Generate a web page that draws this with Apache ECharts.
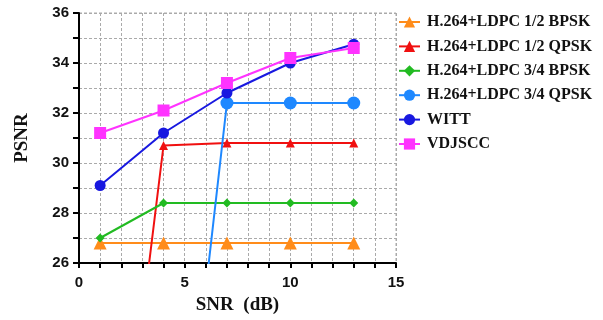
<!DOCTYPE html>
<html><head><meta charset="utf-8">
<script src="https://cdn.jsdelivr.net/npm/echarts@6/dist/echarts.min.js"></script>
<style>html,body{margin:0;padding:0;background:#fff}#c{width:603px;height:320px}</style>
</head><body><div id="c"></div>
<script>
const snr = [1, 4, 7, 10, 13];
const bpsk12 = [26.8, 26.8, 26.8, 26.8, 26.8];
const qpsk12 = [10.0, 30.7, 30.8, 30.8, 30.8];
const bpsk34 = [27.0, 28.4, 28.4, 28.4, 28.4];
const qpsk34 = [9.0, 10.1, 32.4, 32.4, 32.4];
const witt = [29.1, 31.2, 32.8, 34.0, 34.75];
const vdjscc = [31.2, 32.1, 33.2, 34.2, 34.6];
const names = ['H.264+LDPC 1/2 BPSK','H.264+LDPC 1/2 QPSK','H.264+LDPC 3/4 BPSK','H.264+LDPC 3/4 QPSK','WITT','VDJSCC'];
const xTickLabels = [0, 5, 10, 15];
const yTickLabels = [26, 28, 30, 32, 34, 36];

const pair = v => snr.map((x, i) => [x, v[i]]);
const mk = (name, data, color, symbol, size) => ({
  name, type: 'line', data: pair(data), clip: true,
  symbol, symbolSize: size, showAllSymbol: true,
  lineStyle: { color, width: 2 }, itemStyle: { color },
  emphasis: { disabled: true }
});
const chart = echarts.init(document.getElementById('c'), null, { renderer: 'canvas' });
chart.setOption({
  animation: false,
  backgroundColor: '#fff',
  grid: { left: 79, right: 207, top: 13, bottom: 56 },
  legend: {
    orient: 'vertical', left: 393, top: 9, itemWidth: 21, itemHeight: 14, itemGap: 8.4,
    textStyle: { fontFamily: 'Liberation Serif', fontWeight: 'bold', fontSize: 16, color: '#111', padding: [0, 0, 0, 2] },
    data: names
  },
  xAxis: {
    type: 'value', min: 0, max: 15, interval: 1,
    name: 'SNR  (dB)', nameLocation: 'middle', nameGap: 33,
    nameTextStyle: { fontFamily: 'Liberation Serif', fontWeight: 'bold', fontSize: 19, color: '#111' },
    axisLine: { lineStyle: { color: '#000', width: 2 } },
    axisTick: { length: 5, lineStyle: { color: '#000', width: 2 } },
    axisLabel: { margin: 12, fontFamily: 'Liberation Sans', fontWeight: 'bold', fontSize: 15, color: '#111',
      formatter: v => xTickLabels.includes(v) ? String(v) : '' },
    splitLine: { show: true, lineStyle: { color: '#aaa', type: [3, 2], width: 1 } }
  },
  yAxis: {
    type: 'value', min: 26, max: 36, interval: 1,
    name: 'PSNR', nameLocation: 'middle', nameGap: 47,
    nameTextStyle: { fontFamily: 'Liberation Serif', fontWeight: 'bold', fontSize: 19, color: '#111' },
    axisLine: { show: true, lineStyle: { color: '#000', width: 2 } },
    axisTick: { show: true, length: 6, lineStyle: { color: '#000', width: 2 } },
    axisLabel: { margin: 10, fontFamily: 'Liberation Sans', fontWeight: 'bold', fontSize: 15, color: '#111',
      formatter: v => yTickLabels.includes(v) ? String(v) : '' },
    splitLine: { show: true, lineStyle: { color: '#aaa', type: [3, 2], width: 1 } }
  },
  series: [
    mk(names[0], bpsk12, '#FF8C1A', 'triangle', 13),
    mk(names[1], qpsk12, '#F01010', 'triangle', 9),
    mk(names[2], bpsk34, '#22BB22', 'diamond', 9),
    mk(names[3], qpsk34, '#1E88FF', 'circle', 13),
    mk(names[4], witt, '#1818E0', 'circle', 11),
    mk(names[5], vdjscc, '#FF33FF', 'rect', 12)
  ],
  graphic: [
    { type: 'line', shape: { x1: 79, y1: 13, x2: 396, y2: 13 }, style: { stroke: '#aaa', lineDash: [3, 2], lineWidth: 1 }, silent: true },
    { type: 'line', shape: { x1: 396, y1: 13, x2: 396, y2: 264 }, style: { stroke: '#aaa', lineDash: [3, 2], lineWidth: 1 }, silent: true }
  ]
});
</script></body></html>
